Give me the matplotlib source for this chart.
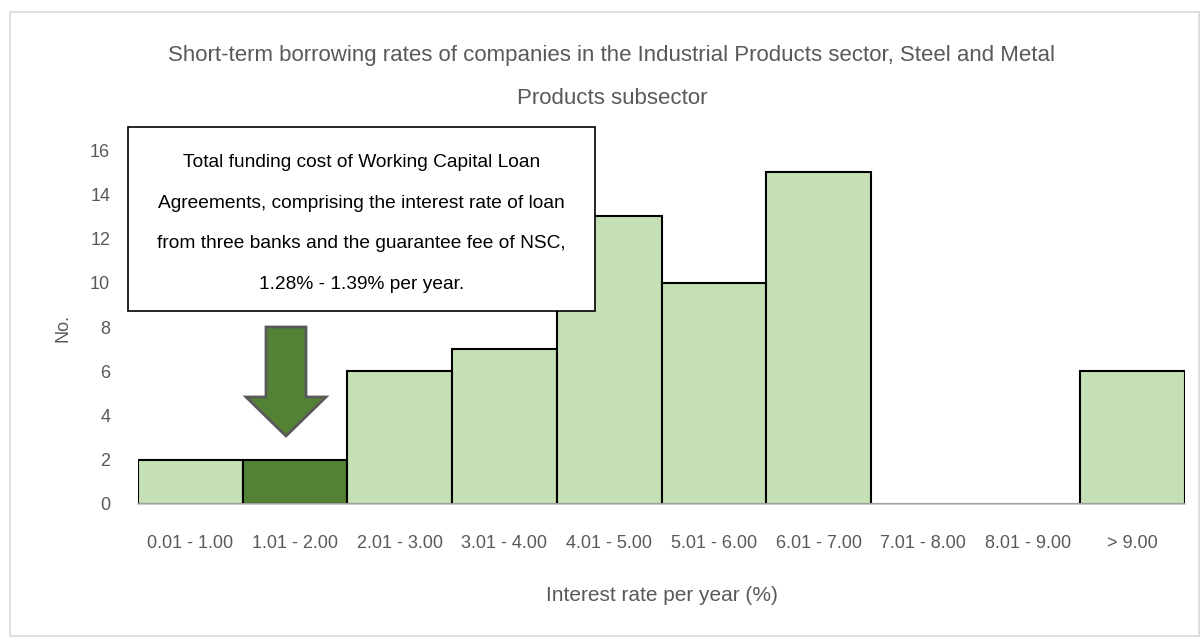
import matplotlib.pyplot as plt
from matplotlib.patches import Rectangle, FancyArrow

plt.rcParams['font.family'] = ['Liberation Sans', 'DejaVu Sans']

ranges = ["0.01 - 1.00", "1.01 - 2.00", "2.01 - 3.00", "3.01 - 4.00", "4.01 - 5.00",
          "5.01 - 6.00", "6.01 - 7.00", "7.01 - 8.00", "8.01 - 9.00", "> 9.00"]
counts = [2, 2, 6, 7, 13, 10, 15, 0, 0, 6]
highlight = "1.01 - 2.00"

grey = "#595959"
light = "#C5E0B4"
dark = "#548235"

fig = plt.figure(figsize=(12, 6.37), dpi=100)
ax = fig.add_axes([0.115, 0.2088, 0.8725, 0.5557])

colors = [dark if r == highlight else light for r in ranges]
ax.bar(range(len(ranges)), counts, width=1.0, color=colors, edgecolor="black", linewidth=1.5, zorder=2)

ax.set_xlim(-0.5, len(ranges) - 0.5)
ax.set_ylim(0, 16)
ax.set_yticks(range(0, 17, 2))
ax.set_xticks(range(len(ranges)))
ax.set_xticklabels(ranges)
ax.tick_params(axis="both", length=0, colors=grey, labelsize=13)
ax.tick_params(axis="x", pad=22)
ax.tick_params(axis="y", pad=20)
for s in ["top", "right", "left"]:
    ax.spines[s].set_visible(False)
ax.spines["bottom"].set_color("#BFBFBF")
ax.spines["bottom"].set_linewidth(1.2)

ax.set_xlabel("Interest rate per year (%)", color=grey, fontsize=15, labelpad=25)
fig.text(63 / 1200, 1 - 328 / 637, "No.", rotation=90, ha="center", va="center", color=grey, fontsize=13)

fig.text(0.51, 1 - 55 / 637, "Short-term borrowing rates of companies in the Industrial Products sector, Steel and Metal",
         ha="center", va="center", color=grey, fontsize=16)
fig.text(0.51, 1 - 99 / 637, "Products subsector", ha="center", va="center", color=grey, fontsize=16)

# outer chart frame
fig.patches.append(Rectangle((10 / 1200, 1 / 637), 1189 / 1200, 624 / 637, transform=fig.transFigure,
                             fill=False, edgecolor="#D9D9D9", linewidth=1.2))

# callout box
x0, x1 = 128 / 1200, 595 / 1200
y0, y1 = 1 - 311 / 637, 1 - 127 / 637
fig.patches.append(Rectangle((x0, y0), x1 - x0, y1 - y0, transform=fig.transFigure,
                             facecolor="white", edgecolor="black", linewidth=1.2, zorder=5))
note = ("Total funding cost of Working Capital Loan\n"
        "Agreements, comprising the interest rate of loan\n"
        "from three banks and the guarantee fee of NSC,\n"
        "1.28% - 1.39% per year.")
fig.text((x0 + x1) / 2, 1 - 223.5 / 637, note, ha="center", va="center", fontsize=13.8,
         color="black", linespacing=2.8, zorder=6)

# arrow pointing at the highlighted range
fig.patches.append(FancyArrow(286 / 1200, 1 - 327 / 637, 0, -(436 - 327) / 637,
                              width=40 / 1200, head_width=80 / 1200, head_length=39 / 637,
                              length_includes_head=True, transform=fig.transFigure,
                              facecolor=dark, edgecolor=grey, linewidth=2, zorder=6))

fig.savefig("out.png", dpi=100)
